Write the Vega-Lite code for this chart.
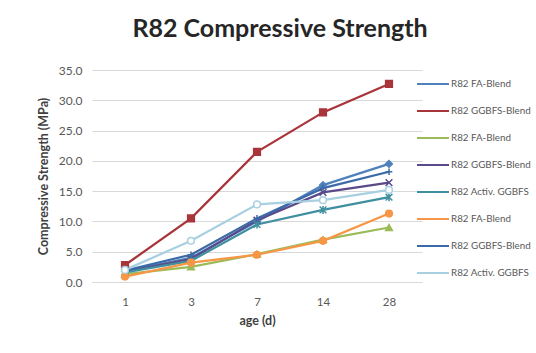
{
  "$schema": "https://vega.github.io/schema/vega-lite/v6.json",
  "width": 330,
  "height": 212,
  "autosize": "none",
  "padding": {"left": 92, "top": 70, "right": 114, "bottom": 71},
  "background": "#ffffff",
  "title": {
    "text": "R82 Compressive Strength",
    "font": "Lato",
    "fontSize": 25,
    "fontWeight": "bold",
    "color": "#262626",
    "anchor": "middle",
    "dx": 23,
    "offset": 22
  },
  "config": {
    "view": {"stroke": null},
    "font": "Lato",
    "axis": {"labelFont": "Lato", "titleFont": "Lato"}
  },
  "resolve": {"legend": {"color": "independent", "shape": "independent", "fill": "independent", "stroke": "independent"}},
  "data": {
    "values": [
      {"series": "s1", "day": 1, "value": 1.8}, {"series": "s1", "day": 3, "value": 4.0}, {"series": "s1", "day": 7, "value": 10.0}, {"series": "s1", "day": 14, "value": 16.0}, {"series": "s1", "day": 28, "value": 19.5},
      {"series": "s2", "day": 1, "value": 2.8}, {"series": "s2", "day": 3, "value": 10.5}, {"series": "s2", "day": 7, "value": 21.5}, {"series": "s2", "day": 14, "value": 28.0}, {"series": "s2", "day": 28, "value": 32.7},
      {"series": "s3", "day": 1, "value": 1.3}, {"series": "s3", "day": 3, "value": 2.5}, {"series": "s3", "day": 7, "value": 4.6}, {"series": "s3", "day": 14, "value": 7.0}, {"series": "s3", "day": 28, "value": 9.0},
      {"series": "s4", "day": 1, "value": 1.7}, {"series": "s4", "day": 3, "value": 3.8}, {"series": "s4", "day": 7, "value": 10.2}, {"series": "s4", "day": 14, "value": 14.8}, {"series": "s4", "day": 28, "value": 16.4},
      {"series": "s5", "day": 1, "value": 1.6}, {"series": "s5", "day": 3, "value": 3.5}, {"series": "s5", "day": 7, "value": 9.5}, {"series": "s5", "day": 14, "value": 11.9}, {"series": "s5", "day": 28, "value": 14.0},
      {"series": "s6", "day": 1, "value": 0.9}, {"series": "s6", "day": 3, "value": 3.2}, {"series": "s6", "day": 7, "value": 4.5}, {"series": "s6", "day": 14, "value": 6.8}, {"series": "s6", "day": 28, "value": 11.3},
      {"series": "s7", "day": 1, "value": 1.9}, {"series": "s7", "day": 3, "value": 4.5}, {"series": "s7", "day": 7, "value": 10.5}, {"series": "s7", "day": 14, "value": 15.5}, {"series": "s7", "day": 28, "value": 18.2},
      {"series": "s8", "day": 1, "value": 2.0}, {"series": "s8", "day": 3, "value": 6.8}, {"series": "s8", "day": 7, "value": 12.8}, {"series": "s8", "day": 14, "value": 13.5}, {"series": "s8", "day": 28, "value": 15.2}
    ]
  },
  "encoding": {
    "x": {
      "field": "day",
      "type": "ordinal",
      "scale": {"type": "point", "padding": 0.5},
      "axis": {
        "title": "age (d)",
        "labelAngle": 0,
        "labelFontSize": 11.5,
        "labelColor": "#595959",
        "labelPadding": 14,
        "ticks": false,
        "domainColor": "#D9D9D9",
        "titleFontSize": 12.5,
        "titleFontWeight": "bold",
        "titleColor": "#404040",
        "titlePadding": 7
      }
    },
    "y": {
      "field": "value",
      "type": "quantitative",
      "scale": {"domain": [0, 35], "nice": false},
      "axis": {
        "title": "Compressive Strength (MPa)",
        "values": [0, 5, 10, 15, 20, 25, 30, 35],
        "format": ".1f",
        "labelFontSize": 12,
        "labelColor": "#595959",
        "labelPadding": 10,
        "ticks": false,
        "domain": false,
        "gridColor": "#D9D9D9",
        "titleFontSize": 12.5,
        "titleFontWeight": "bold",
        "titleColor": "#404040",
        "titlePadding": 8
      }
    }
  },
  "layer": [
    {
      "mark": {"type": "line", "strokeWidth": 2.25},
      "encoding": {
        "color": {
          "field": "series",
          "type": "nominal",
          "scale": {
            "domain": ["s1", "s2", "s3", "s4", "s5", "s6", "s7", "s8"],
            "range": ["#4F81BD", "#A8353A", "#9BBB59", "#5A4A8A", "#3E8FA0", "#F79646", "#3B6AA8", "#A8D0E0"]
          },
          "legend": {
            "orient": "none",
            "legendX": 335,
            "legendY": 8,
            "title": null,
            "symbolType": "M-3.2,0H3.2",
            "symbolSize": 100,
            "symbolStrokeWidth": 2,
            "labelFontSize": 9.8,
            "labelColor": "#595959",
            "labelOffset": 12,
            "labelLimit": 200,
            "rowPadding": 16,
            "labelExpr": "{'s1':'R82 FA-Blend','s2':'R82 GGBFS-Blend','s3':'R82 FA-Blend','s4':'R82 GGBFS-Blend','s5':'R82 Activ. GGBFS','s6':'R82 FA-Blend','s7':'R82 GGBFS-Blend','s8':'R82 Activ. GGBFS'}[datum.value]"
          }
        }
      }
    },
    {
      "mark": {"type": "point", "filled": true, "size": 45, "strokeWidth": 1.5, "opacity": 1},
      "encoding": {
        "stroke": {
          "field": "series",
          "type": "nominal",
          "scale": {
            "domain": ["s1", "s2", "s3", "s4", "s5", "s6", "s7", "s8"],
            "range": ["#4F81BD", "#A8353A", "#9BBB59", "#5A4A8A", "#3E8FA0", "#F79646", "#3B6AA8", "#A8D0E0"]
          },
          "legend": null
        },
        "fill": {
          "field": "series",
          "type": "nominal",
          "scale": {
            "domain": ["s1", "s2", "s3", "s4", "s5", "s6", "s7", "s8"],
            "range": ["#4F81BD", "#A8353A", "#9BBB59", "#5A4A8A", "#3E8FA0", "#F79646", "#3B6AA8", "#ffffff"]
          },
          "legend": null
        },
        "shape": {
          "field": "series",
          "type": "nominal",
          "scale": {
            "domain": ["s1", "s2", "s3", "s4", "s5", "s6", "s7", "s8"],
            "range": ["diamond", "square", "triangle-up", "M-1,-1L1,1M-1,1L1,-1", "M-1,-1L1,1M-1,1L1,-1M0,-1.2L0,1.2", "circle", "M-1,0L1,0M0,-1L0,1", "circle"]
          },
          "legend": null
        }
      }
    }
  ]
}
